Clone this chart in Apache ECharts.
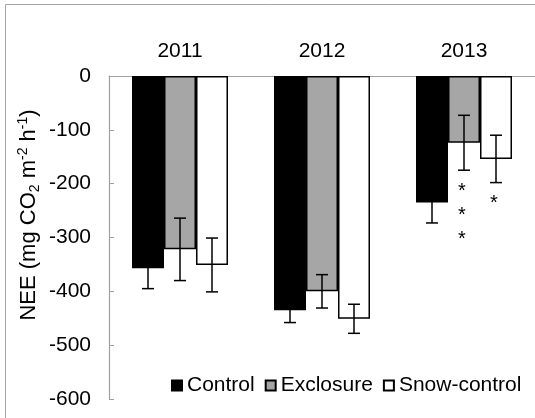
<!DOCTYPE html>
<html>
<head>
<meta charset="utf-8">
<script src="https://cdn.jsdelivr.net/npm/echarts@6/dist/echarts.min.js"></script>
<style>
  html, body { margin: 0; padding: 0; background: #fff; }
  #chart { width: 535px; height: 418px; }
</style>
</head>
<body>
<div id="chart"></div>
<script>
// NEE by year and treatment (mean ± SE)
const years = ['2011', '2012', '2013'];
const controlMean = [-357, -435, -235];
const controlErr = [38, 23, 38];
const exclosureMean = [-322, -400, -124];
const exclosureErr = [58, 31, 51];
const snowMean = [-351, -451, -154];
const snowErr = [50, 27, 44];
// number of significance stars under each bar
const exclosureStars = [0, 0, 3];
const snowStars = [0, 0, 1];
const seriesNames = ['Control', 'Exclosure', 'Snow-control'];

const FONT = '"Liberation Sans", Arial, sans-serif';
const BAR_W = 32;

function errorSeries(groupIndex, means, errs, stars) {
  return {
    type: 'custom',
    silent: true,
    z: 5,
    data: means.map((m, i) => [i, m, errs[i], stars ? stars[i] : 0]),
    encode: { x: 0, y: 1 },
    renderItem: function (params, api) {
      const cat = api.value(0);
      const mean = api.value(1);
      const err = api.value(2);
      const nStars = api.value(3);
      const cx = api.coord([cat, mean])[0] + (groupIndex - 1) * BAR_W;
      const yHi = api.coord([cat, mean + err])[1];
      const yLo = api.coord([cat, mean - err])[1];
      const cap = 6;
      const stroke = { stroke: '#000', lineWidth: 1.5, fill: null };
      const children = [
        { type: 'line', shape: { x1: cx, y1: yHi, x2: cx, y2: yLo }, style: stroke },
        { type: 'line', shape: { x1: cx - cap, y1: yHi, x2: cx + cap, y2: yHi }, style: stroke },
        { type: 'line', shape: { x1: cx - cap, y1: yLo, x2: cx + cap, y2: yLo }, style: stroke }
      ];
      if (nStars > 0) {
        children.push({
          type: 'text',
          x: cx - 2,
          y: yLo + 9,
          style: {
            text: new Array(nStars).fill('*').join('\n'),
            font: '20px ' + FONT,
            lineHeight: 24,
            fill: '#000',
            align: 'center',
            verticalAlign: 'top'
          }
        });
      }
      return { type: 'group', children: children };
    }
  };
}

const chart = echarts.init(document.getElementById('chart'), null, { renderer: 'canvas' });

chart.setOption({
  animation: false,
  backgroundColor: '#fff',
  textStyle: { fontFamily: FONT },
  grid: { left: 109, top: 76, width: 435, bottom: 19 },
  legend: {
    data: seriesNames,
    left: 166,
    top: 370,
    icon: 'rect',
    itemWidth: 10,
    itemHeight: 10,
    itemGap: 10,
    textStyle: { fontSize: 21, color: '#000', fontFamily: FONT }
  },
  xAxis: {
    type: 'category',
    data: years,
    position: 'top',
    axisLine: { lineStyle: { color: '#a0a0a0', width: 1.2 } },
    axisTick: { inside: true, length: 5, lineStyle: { color: '#a0a0a0' } },
    axisLabel: { color: '#000', fontSize: 21, margin: 14, fontFamily: FONT },
    splitLine: { show: false }
  },
  yAxis: {
    type: 'value',
    min: -600,
    max: 0,
    interval: 100,
    axisLine: { show: true, lineStyle: { color: '#a0a0a0', width: 1.2 } },
    axisTick: { show: true, inside: true, length: 5, lineStyle: { color: '#a0a0a0' } },
    axisLabel: { color: '#000', fontSize: 21, margin: 18, fontFamily: FONT },
    splitLine: { show: false }
  },
  graphic: [
    {
      type: 'rect',
      silent: true,
      shape: { x: 5.5, y: 4.5, width: 700, height: 700 },
      style: { fill: 'none', stroke: '#a6a6a6', lineWidth: 1 }
    },
    {
      type: 'text',
      x: 29,
      y: 215,
      rotation: Math.PI / 2,
      silent: true,
      style: {
        text: '{n|NEE (mg CO}{sub|2}{n| m}{sup|-2}{n| h}{sup|-1}{n|)}',
        align: 'center',
        verticalAlign: 'middle',
        fill: '#000',
        rich: {
          n: { fontSize: 22, fontFamily: FONT, lineHeight: 26, fill: '#000' },
          sub: { fontSize: 14, fontFamily: FONT, verticalAlign: 'bottom', fill: '#000' },
          sup: { fontSize: 14, fontFamily: FONT, verticalAlign: 'top', fill: '#000' }
        }
      }
    }
  ],
  series: [
    {
      name: seriesNames[0],
      type: 'bar',
      data: controlMean,
      barWidth: BAR_W,
      barGap: '0%',
      itemStyle: { color: '#000', borderColor: '#000', borderWidth: 1.5 }
    },
    {
      name: seriesNames[1],
      type: 'bar',
      data: exclosureMean,
      barWidth: BAR_W,
      barGap: '0%',
      itemStyle: { color: '#a6a6a6', borderColor: '#000', borderWidth: 1.5 }
    },
    {
      name: seriesNames[2],
      type: 'bar',
      data: snowMean,
      barWidth: BAR_W,
      barGap: '0%',
      itemStyle: { color: '#fff', borderColor: '#000', borderWidth: 1.5 }
    },
    errorSeries(0, controlMean, controlErr, null),
    errorSeries(1, exclosureMean, exclosureErr, exclosureStars),
    errorSeries(2, snowMean, snowErr, snowStars)
  ]
});
</script>
</body>
</html>
